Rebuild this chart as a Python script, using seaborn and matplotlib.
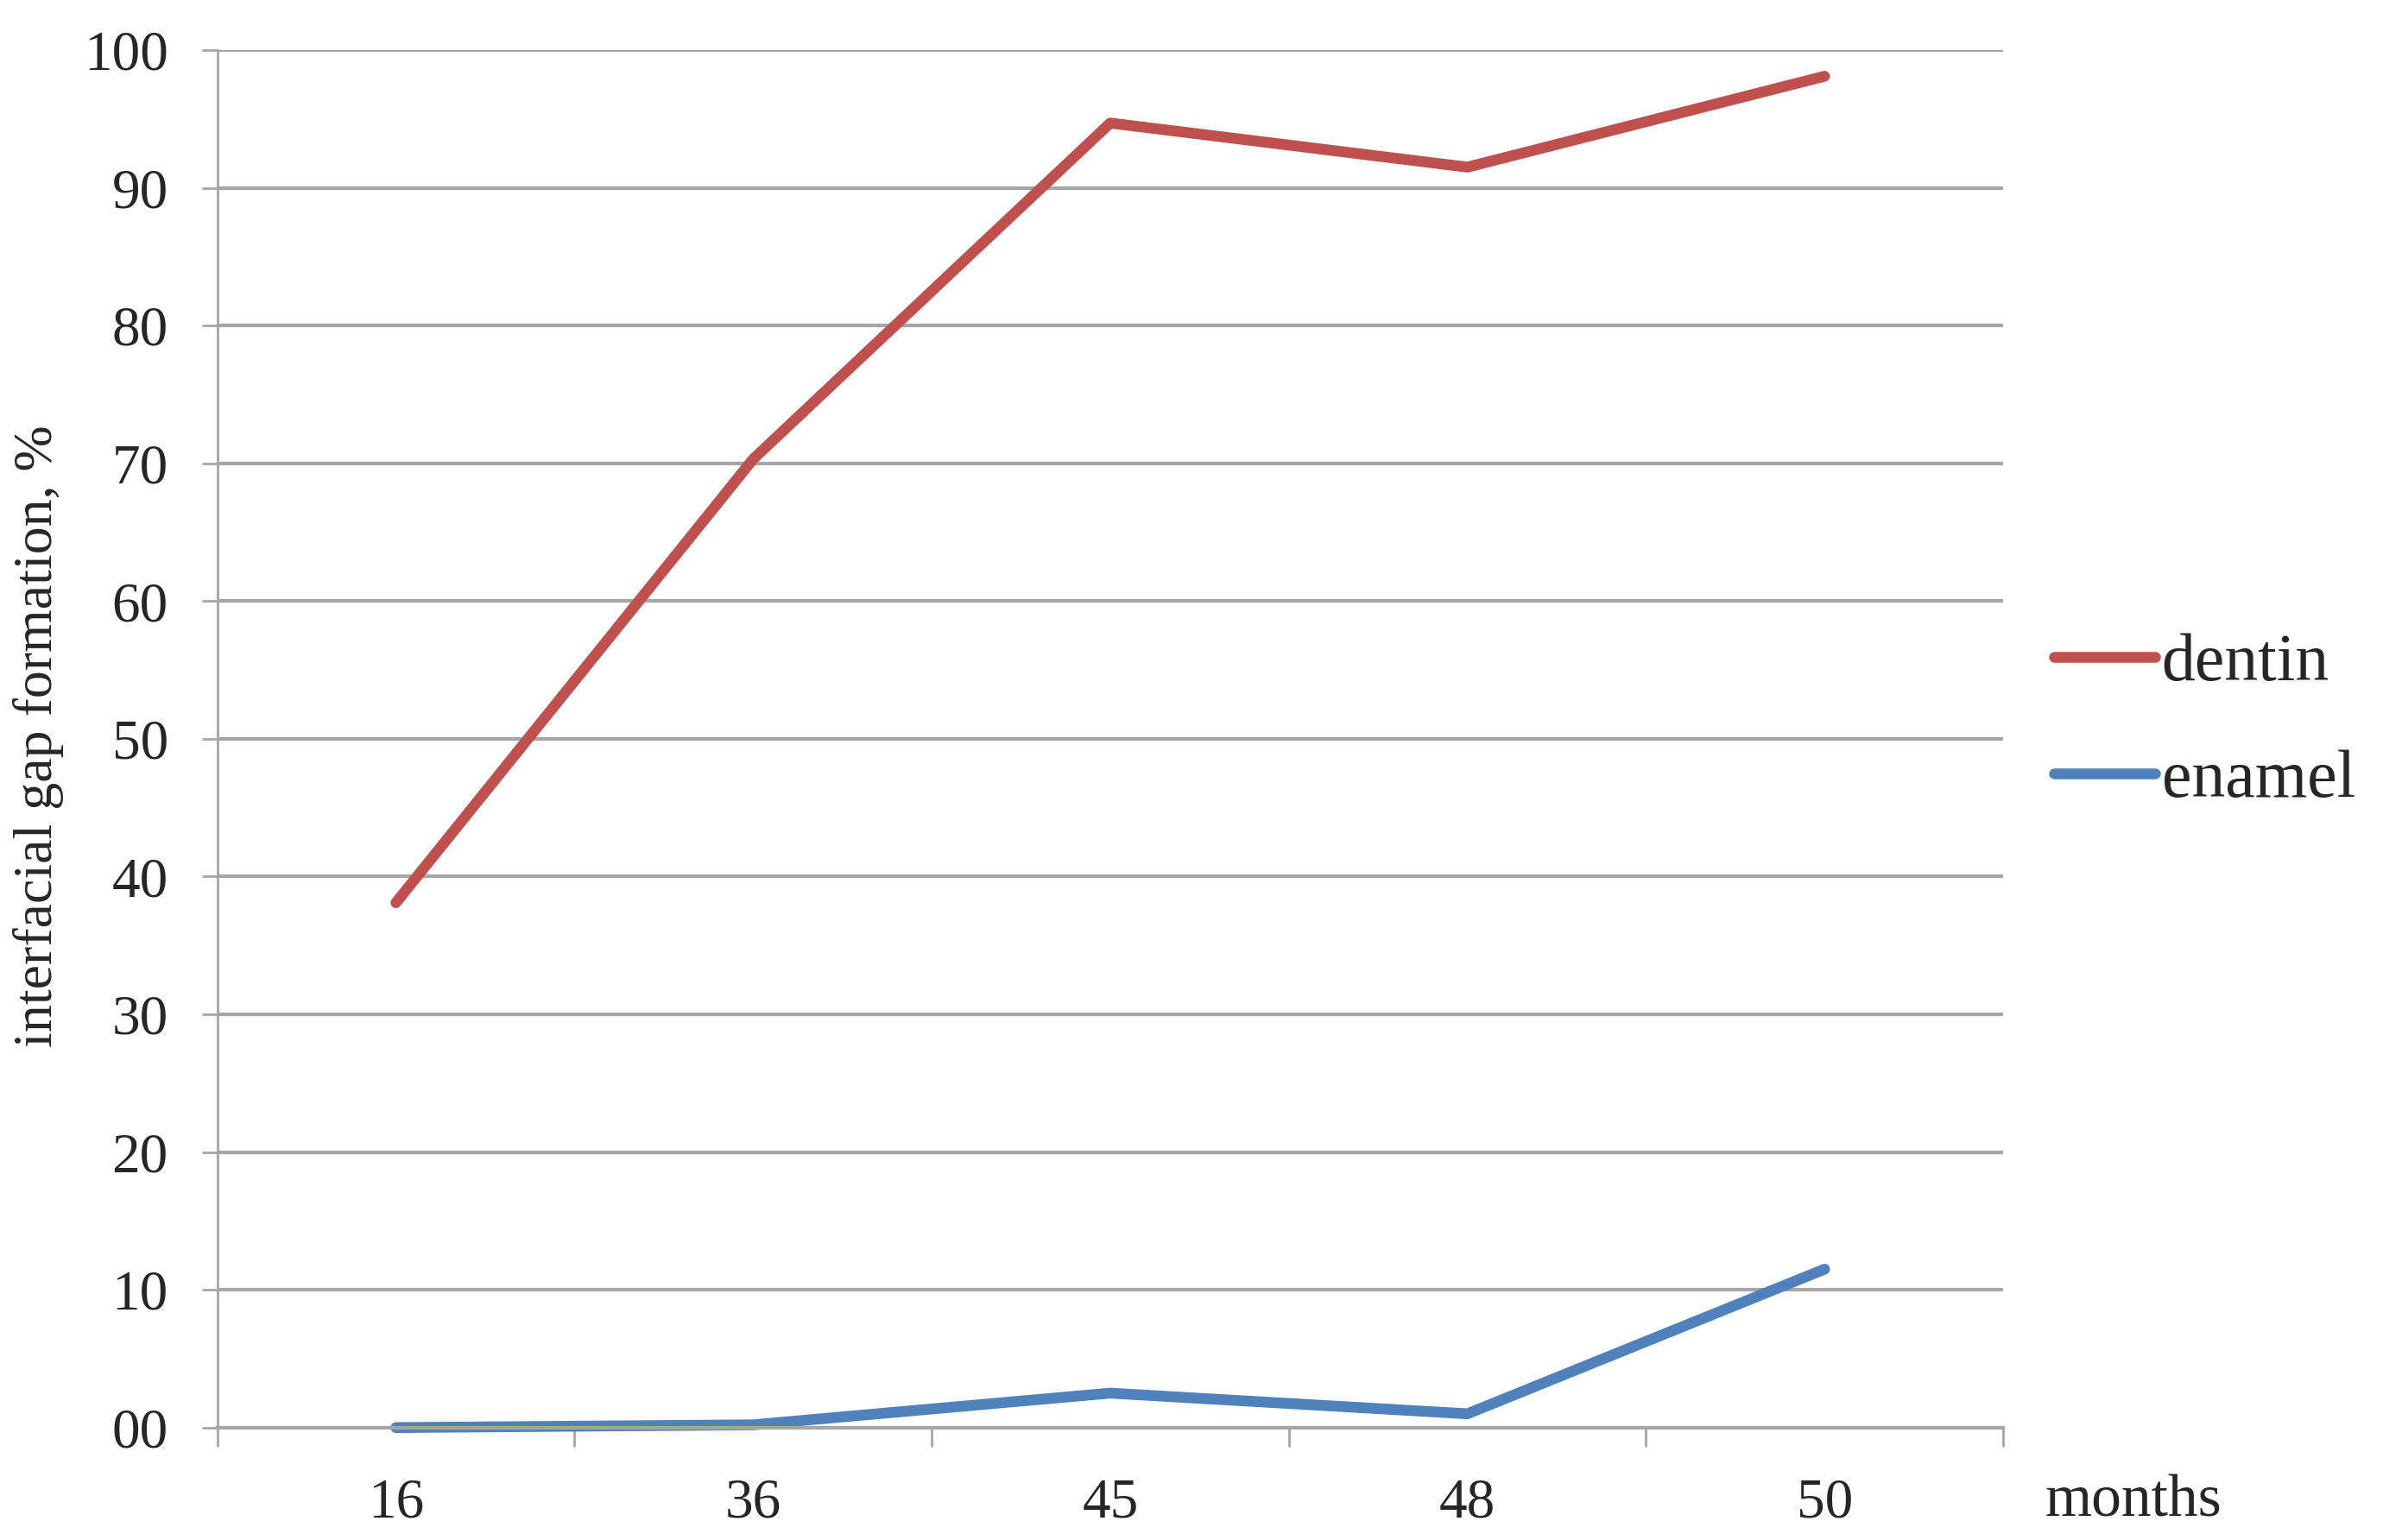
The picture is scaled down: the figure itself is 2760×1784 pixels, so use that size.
import numpy as np
import pandas as pd
import matplotlib
matplotlib.use('Agg')
import matplotlib.pyplot as plt
import seaborn as sns

# данные
months = ['16', '36', '45', '48', '50']
dentin = [38.1, 70.3, 94.7, 91.5, 98.1]
enamel = [0.0, 0.2, 2.5, 1.0, 11.5]

y_ticks = [0, 10, 20, 30, 40, 50, 60, 70, 80, 90, 100]
y_labels = ['00', '10', '20', '30', '40', '50', '60', '70', '80', '90', '100']

df = pd.DataFrame({
    'pos': list(range(len(months))) * 2,
    'value': dentin + enamel,
    'tissue': ['dentin'] * len(months) + ['enamel'] * len(months),
})

sns.set_theme(style='white')
plt.rcParams['font.family'] = ['Liberation Serif', 'DejaVu Serif']

grid_col = '#A6A6A6'
line_w = 4.5

fig = plt.figure(figsize=(13.8, 8.92), dpi=200)
ax = fig.add_axes([0.0912, 0.0730, 0.8406 - 0.0912, 0.9675 - 0.0730])

sns.lineplot(data=df, x='pos', y='value', hue='tissue',
             palette={'dentin': '#C0504D', 'enamel': '#4F81BD'},
             linewidth=line_w, ax=ax, legend=False, clip_on=False,
             solid_capstyle='round')

ax.set_xlim(-0.5, len(months) - 0.5)
ax.set_ylim(0, 100)

# сетка по y
ax.set_yticks(y_ticks)
ax.set_yticklabels(y_labels, fontsize=23.5)
ax.yaxis.grid(True, color=grid_col, linewidth=1.5)
ax.xaxis.grid(False)
ax.tick_params(axis='y', which='major', length=6.5, width=1.0, color=grid_col,
               pad=14, left=True)

# деления между категориями, подписи по центрам
ax.set_xticks(np.arange(-0.5, len(months), 1.0))
ax.set_xticklabels([])
ax.set_xticks(range(len(months)), minor=True)
ax.set_xticklabels(months, minor=True, fontsize=23.5)
ax.tick_params(axis='x', which='major', length=8, width=1.0, color=grid_col,
               bottom=True)
ax.tick_params(axis='x', which='minor', length=0, pad=21)

for s in ['top', 'right']:
    ax.spines[s].set_visible(False)
ax.spines['left'].set_color(grid_col)
ax.spines['left'].set_linewidth(1.0)
ax.spines['bottom'].set_color(grid_col)
ax.spines['bottom'].set_linewidth(1.5)

ax.set_xlabel('')
ax.set_ylabel('interfacial gap formation, %', fontsize=23)
ax.yaxis.set_label_coords(-0.086, 0.502)

fig.text(0.858, 0.025, 'months', fontsize=25, ha='left', va='center')

# легенда справа
handles = [plt.Line2D([], [], color='#C0504D', lw=line_w),
           plt.Line2D([], [], color='#4F81BD', lw=line_w)]
fig.legend(handles, ['dentin', 'enamel'], loc='center left',
           bbox_to_anchor=(0.862, 0.531), frameon=False, fontsize=28,
           borderpad=0, borderaxespad=0,
           handlelength=1.5, handletextpad=0.1, labelspacing=0.82)

fig.savefig('out.png', dpi=200)
